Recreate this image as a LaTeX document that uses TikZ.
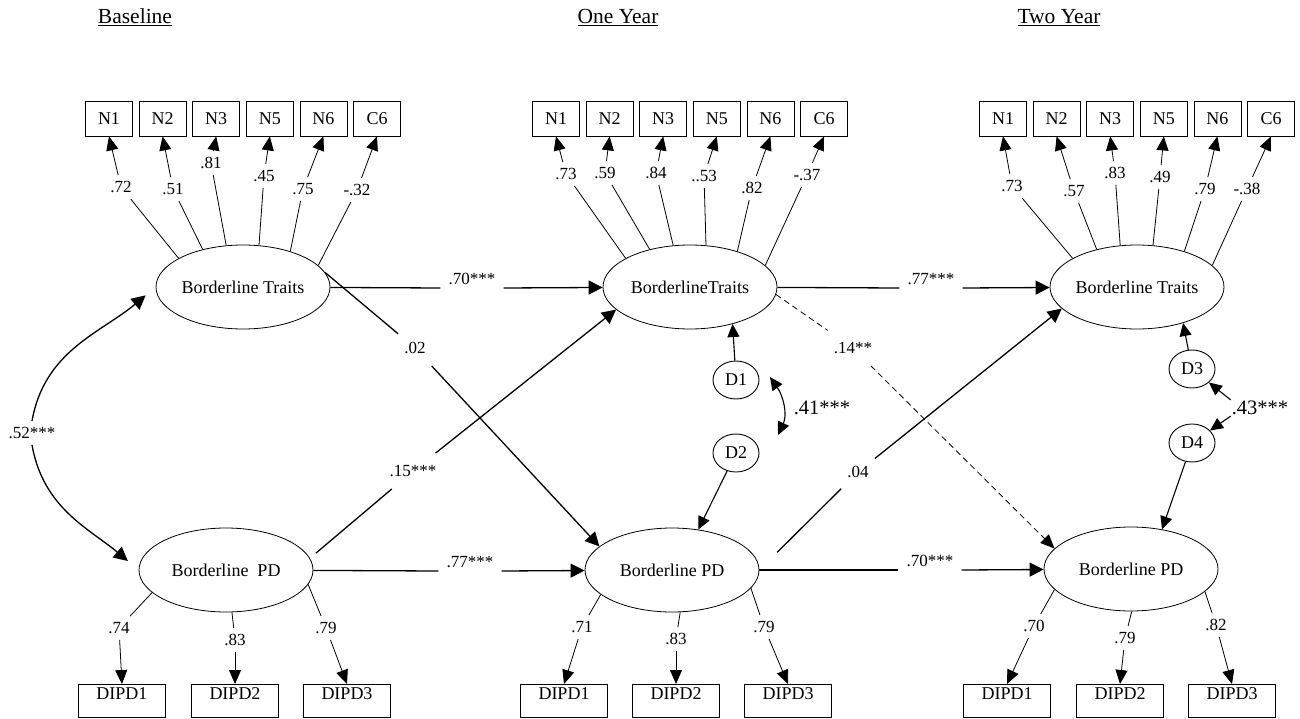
\documentclass[tikz,border=0pt]{standalone}
\usepackage{fontspec}
\setmainfont{Liberation Serif}
\usetikzlibrary{arrows.meta,shapes.geometric}
\tikzset{
  latent/.style={draw=black, ellipse, line width=0.8pt, minimum width=174pt, minimum height=84pt, inner sep=0pt, font=\fontsize{18}{20}\selectfont},
  dist/.style={draw=black, ellipse, line width=0.9pt, minimum width=46pt, minimum height=38pt, inner sep=0pt, font=\fontsize{18}{20}\selectfont},
  obs/.style={draw=black, line width=0.8pt, minimum width=47pt, minimum height=35pt, inner sep=0pt, font=\fontsize{18}{20}\selectfont},
  dipd/.style={draw=black, line width=0.8pt, anchor=north, minimum width=87pt, text height=12pt, text depth=15pt, inner xsep=0pt, inner ysep=3pt, font=\fontsize{18}{20}\selectfont},
  coef/.style={inner xsep=2pt, inner ysep=6pt, font=\fontsize{17}{19}\selectfont},
  dcoef/.style={inner xsep=6pt, inner ysep=12pt, font=\fontsize{17}{19}\selectfont},
  hcoef/.style={anchor=south, inner xsep=8pt, inner ysep=3pt, font=\fontsize{17}{19}\selectfont},
  bigcoef/.style={inner sep=1pt, font=\fontsize{20.5}{22}\selectfont},
  ttl/.style={anchor=base, inner sep=0pt, font=\fontsize{21.5}{24}\selectfont},
  ld/.style={line width=0.8pt},
  ldarr/.style={line width=0.8pt, -{Triangle[length=14pt,width=12pt]}},
  reg/.style={line width=1.3pt},
  regarr/.style={line width=1.3pt, -{Triangle[length=14pt,width=14pt]}},
  darr/.style={line width=1.1pt, -{Triangle[length=13pt,width=12pt]}},
  dbl/.style={line width=1.1pt, {Triangle[length=13pt,width=12pt]}-{Triangle[length=13pt,width=12pt]}},
}
\newcommand{\ItemRow}[2]{%
  \foreach \g [count=\i] in {N1,N2,N3,N5,N6,C6} {
    \node[obs] (N#1\i) at ({#2-134+(\i-1)*53.6},-118.5) {\g};
  }
}

\begin{document}
\begin{tikzpicture}[x=1pt,y=1pt]
  \useasboundingbox (0,0) rectangle (1300,-719);
  \node[ttl] (tBase) at (135,-24) {\underline{Baseline}};
  \node[ttl] (tOne) at (618,-24) {\underline{One Year}};
  \node[ttl] (tTwo) at (1059,-24) {\underline{Two Year}};

  % latent factors
  \node[latent] (BT0) at (243,-287) {Borderline Traits};
  \node[latent] (BT1) at (690,-287) {BorderlineTraits};
  \node[latent] (BT2) at (1137,-287) {Borderline Traits};
  \node[latent] (BP0) at (226,-570) {Borderline\ \ PD};
  \node[latent] (BP1) at (672,-570) {Borderline PD};
  \node[latent] (BP2) at (1131,-569) {Borderline PD};

  % disturbances
  \node[dist] (D1) at (736,-380) {D1};
  \node[dist] (D2) at (736,-453) {D2};
  \node[dist] (D3) at (1192,-369) {D3};
  \node[dist] (D4) at (1192,-443) {D4};

  % indicators
  \ItemRow{0}{243}
  \ItemRow{1}{690}
  \ItemRow{2}{1137}
  \foreach \p/\i/\x in {0/1/122,0/2/235,0/3/347,1/1/564,1/2/676,1/3/788,2/1/1007,2/2/1120,2/3/1232} {
    \node[dipd] (P\p\i) at (\x,-684) {DIPD\i};
  }

  % loadings
  \foreach \p/\i/\a/\v/\lx/\ly in {0/1/156/.72/121/187, 0/2/137/.51/173/189, 0/3/112/.81/211/163,
      0/4/69/.45/264/176, 0/5/37/.75/303/189, 0/6/16/-.32/357/190,
      1/1/156/.73/566/174, 1/2/137/.59/605/173, 1/3/112/.84/656/173,
      1/4/69/..53/704/176, 1/5/37/.82/752/188, 1/6/16/-.37/807/175,
      2/1/156/.73/1012/186, 2/2/137/.57/1074/191, 2/3/112/.83/1115/173,
      2/4/69/.49/1160/177, 2/5/37/.79/1205/189, 2/6/16/-.38/1247/189} {
    \node[coef] (q\p\i) at (\lx,-\ly) {\v};
    \draw[ld] (BT\p.\a) -- (q\p\i);
    \draw[ldarr] (q\p\i) -- (N\p\i.south);
  }
  \foreach \p/\i/\a/\v/\lx/\ly in {0/1/197/.74/119/628, 0/2/278/.83/235/640, 0/3/350/.79/326/628,
      1/1/199/.71/582/627, 1/2/281/.83/676/639, 1/3/347/.79/764/627,
      2/1/195/.70/1034/626, 2/2/271/.79/1125/638, 2/3/343/.82/1216/625} {
    \node[coef] (r\p\i) at (\lx,-\ly) {\v};
    \draw[ld] (BP\p.\a) -- (r\p\i);
    \draw[ldarr] (r\p\i) -- (P\p\i.north);
  }

  % stability paths
  \node[hcoef] (h70) at (472,-288) {.70***};
  \draw[reg] (BT0) -- (h70.south west);
  \draw[regarr] (h70.south east) -- (BT1);
  \node[hcoef] (h77) at (931,-288) {.77***};
  \draw[reg] (BT1) -- (h77.south west);
  \draw[regarr] (h77.south east) -- (BT2);
  \node[hcoef] (h77b) at (470,-571) {.77***};
  \draw[reg] (BP0) -- (h77b.south west);
  \draw[regarr] (h77b.south east) -- (BP1);
  \node[hcoef] (h70b) at (930,-570) {.70***};
  \draw[reg] (BP1) -- (h70b.south west);
  \draw[regarr] (h70b.south east) -- (BP2);

  % cross-lagged paths
  \node[dcoef] (x02) at (415,-348) {.02};
  \draw[reg] (BT0.10) -- (x02);
  \draw[regarr] (x02) -- (BP1.162);
  \node[dcoef] (x15) at (413,-471) {.15***};
  \draw[reg, shorten <=8pt] (BP0.8) -- (x15);
  \draw[regarr] (x15) -- (BT1.197);
  \node[dcoef] (x14) at (853,-348) {.14**};
  \draw[ld, dashed, dash pattern=on 6pt off 4pt] (BT1.355) -- (x14);
  \draw[ldarr, dashed, dash pattern=on 6pt off 4pt] (x14) -- (BP2.165);
  \node[dcoef] (x04) at (858,-472) {.04};
  \draw[reg, shorten <=25pt] (BP1.0) -- (x04);
  \draw[regarr] (x04) -- (BT2.196);

  % residuals
  \draw[darr] (D1) -- (BT1.319);
  \draw[darr] (D2) -- (BP1.57);
  \draw[darr] (D3) -- (BT2.322);
  \draw[darr] (D4) -- (BP2.52);
  \node[bigcoef] (c41) at (822,-408) {.41***};
  \coordinate (k41a) at (770,-377);
  \coordinate (k41b) at (778,-435);
  \draw[dbl] (k41a) to[out=-55,in=65] (k41b);
  \node[bigcoef] (c43) at (1260,-408) {.43***};
  \draw[darr] (c43.north west) -- (D3);
  \draw[darr] (c43.south west) -- (D4);

  % baseline correlation
  \node[coef] (c52) at (32,-433) {.52***};
  \draw[regarr, shorten >=13pt] (c52.north) to[out=80,in=220] (BT0.west);
  \draw[regarr, shorten >=14pt] (c52.south) to[out=-80,in=140] (BP0.west);
\end{tikzpicture}
\end{document}
